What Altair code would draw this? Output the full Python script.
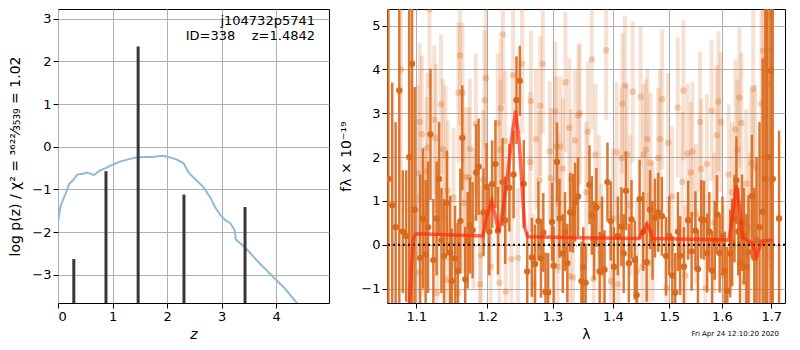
import altair as alt
import pandas as pd

FONT = "DejaVu Sans"

# ---------------- left panel: log p(z) ----------------
pz_z = [0.00, 0.05, 0.14, 0.20, 0.29, 0.35, 0.45, 0.54, 0.66, 0.75, 0.87, 1.00, 1.15,
        1.27, 1.42, 1.60, 1.73, 1.91, 2.03, 2.18, 2.30, 2.40, 2.52, 2.67, 2.79, 2.88,
        2.98, 3.07, 3.16, 3.24, 3.26, 3.37, 3.49, 3.65, 3.80, 3.98, 4.16, 4.38, 4.45]
pz_logp = [-1.76, -1.37, -1.10, -0.88, -0.76, -0.65, -0.63, -0.60, -0.66, -0.57, -0.50,
           -0.42, -0.34, -0.30, -0.25, -0.24, -0.24, -0.21, -0.24, -0.30, -0.38, -0.61,
           -0.76, -0.95, -1.18, -1.41, -1.60, -1.72, -1.79, -1.95, -2.17, -2.29, -2.44,
           -2.67, -2.86, -3.09, -3.32, -3.66, -3.75]
spike_z = [0.29, 0.88, 1.47, 2.31, 3.43]
spike_logp = [-2.63, -0.57, 2.35, -1.12, -1.41]
id_line1 = "j104732p5741"
id_line2 = "ID=338\u00a0\u00a0\u00a0\u00a0z=1.4842"

# ---------------- right panel: spectrum ----------------
dark_wave = [1.0630, 1.0680, 1.0725, 1.0773, 1.0820, 1.0865, 1.0905, 1.0943, 1.0978, 1.1053,
             1.1090, 1.1127, 1.1160, 1.1193, 1.1233, 1.1278, 1.1312, 1.1345, 1.1380, 1.1421,
             1.1466, 1.1488, 1.1535, 1.1573, 1.1611, 1.1638, 1.1680, 1.1715, 1.1749, 1.1786,
             1.1838, 1.1874, 1.1945, 1.1990, 1.2030, 1.2072, 1.2121, 1.2159, 1.2228, 1.2267,
             1.2330, 1.2394, 1.2438, 1.2489, 1.2549, 1.2603, 1.2675, 1.2725, 1.2777, 1.2817,
             1.2854, 1.2889, 1.2931, 1.2993, 1.3018, 1.3071, 1.3112, 1.3165, 1.3200, 1.3238,
             1.3285, 1.3328, 1.3365, 1.3413, 1.3469, 1.3500, 1.3538, 1.3603, 1.3641, 1.3680,
             1.3718, 1.3773, 1.3815, 1.3856, 1.3906, 1.3962, 1.4017, 1.4084, 1.4146, 1.4185,
             1.4224, 1.4275, 1.4322, 1.4379, 1.4413, 1.4465, 1.4529, 1.4590, 1.4652, 1.4696,
             1.4740, 1.4799, 1.4865, 1.4941, 1.4999, 1.5057, 1.5111, 1.5161, 1.5202, 1.5271,
             1.5353, 1.5418, 1.5489, 1.5538, 1.5601, 1.5651, 1.5714, 1.5756, 1.5810, 1.5861,
             1.5905, 1.5957, 1.6011, 1.6059, 1.6107, 1.6165, 1.6204, 1.6250, 1.6288, 1.6325,
             1.6360, 1.6400, 1.6438, 1.6490, 1.6531, 1.6601, 1.6650, 1.6696, 1.6756, 1.6822,
             1.6877, 1.6917, 1.6985, 1.7030, 1.7163]
dark_flux = [1.50, 0.90, 0.40, 3.52, 0.30, 0.20, 2.00, 4.13, 0.80, -0.30,
             0.60, -0.22, 0.40, 2.52, -0.35, 0.60, 1.50, 0.10, -0.26, 0.95,
             -0.18, -0.83, -0.31, -0.60, 0.54, 2.44, -0.79, 0.10, 0.44, 0.33,
             1.65, 1.78, 0.74, 1.32, 0.30, 1.38, 1.84, 0.32, 1.43, 0.56,
             1.30, 1.60, 3.30, 3.74, 1.39, -0.61, -0.29, -0.44, 0.54, -0.31,
             0.28, -1.08, -1.09, 0.52, -0.48, 1.89, 0.60, -0.20, 0.30, -0.42,
             0.74, 0.72, 0.97, 1.10, -0.83, -0.50, -0.87, 1.37, 0.67, 0.10,
             0.85, -0.61, 0.20, -0.57, 1.43, 0.54, -0.50, 0.20, 0.41, -0.20,
             1.23, -0.42, 0.58, -0.35, -1.15, 1.04, 0.30, -0.40, 0.80, 0.10,
             0.61, 0.74, 0.65, -0.26, 0.20, -0.70, -1.09, 0.30, -0.25, -0.50,
             0.56, -0.15, 0.32, -0.56, 0.58, 0.56, -0.19, 0.30, -0.59, 0.10,
             0.69, -0.19, 0.20, -0.60, -1.05, -0.20, 0.05, 0.60, 1.47, 0.30,
             -0.42, 0.50, 0.20, -0.50, -0.17, 1.11, -0.30, 0.10, 0.40, 0.75,
             1.50, 2.00, 3.97, 1.50, 0.60]
dark_err = [5.0, 2.8, 2.4, 5.0, 1.4, 1.5, 4.0, 5.5, 2.8, 1.9,
            1.6, 1.7, 1.5, 1.5, 1.4, 1.3, 1.3, 1.2, 1.3, 1.2,
            1.3, 1.2, 1.2, 1.1, 1.2, 1.2, 1.2, 1.1, 1.1, 1.1,
            1.1, 1.1, 1.0, 1.0, 1.0, 1.0, 1.0, 1.0, 1.0, 1.0,
            1.0, 1.0, 1.0, 0.8, 1.0, 0.9, 0.9, 0.9, 0.9, 0.9,
            0.9, 0.9, 0.9, 0.9, 0.9, 0.9, 0.9, 0.9, 0.9, 0.9,
            0.9, 0.9, 0.9, 0.9, 0.9, 0.9, 0.9, 0.9, 0.9, 0.9,
            0.9, 0.9, 0.9, 0.9, 0.9, 0.9, 0.9, 0.9, 0.9, 0.9,
            0.9, 0.9, 0.9, 0.9, 0.9, 0.9, 0.9, 0.9, 0.9, 0.9,
            0.9, 0.9, 0.9, 0.9, 0.9, 0.9, 0.9, 0.9, 0.9, 0.9,
            0.9, 0.9, 0.9, 0.9, 0.9, 0.9, 0.9, 0.9, 0.9, 0.9,
            0.9, 0.9, 0.9, 0.9, 1.0, 1.0, 1.0, 1.0, 1.0, 1.0,
            1.0, 1.1, 1.1, 1.2, 1.3, 1.4, 1.6, 1.9, 2.4, 3.5,
            4.5, 5.0, 6.0, 5.0, 2.0]

light_wave = [1.0794, 1.0921, 1.1021, 1.1034, 1.1047, 1.1075, 1.1110, 1.1140, 1.1153, 1.1180,
              1.1246, 1.1268, 1.1285, 1.1338, 1.1365, 1.1401, 1.1420, 1.1432, 1.1513, 1.1575,
              1.1584, 1.1606, 1.1642, 1.1660, 1.1679, 1.1734, 1.1747, 1.1800, 1.1833, 1.1893,
              1.1907, 1.1938, 1.1962, 1.1980, 1.2050, 1.2155, 1.2180, 1.2194, 1.2203, 1.2232,
              1.2267, 1.2276, 1.2360, 1.2385, 1.2460, 1.2524, 1.2649, 1.2660, 1.2700, 1.2740,
              1.2797, 1.2807, 1.2847, 1.2956, 1.2975, 1.3045, 1.3058, 1.3080, 1.3096, 1.3123,
              1.3165, 1.3207, 1.3270, 1.3281, 1.3297, 1.3330, 1.3366, 1.3420, 1.3441, 1.3550,
              1.3575, 1.3641, 1.3674, 1.3702, 1.3760, 1.3800, 1.3884, 1.3962, 1.4000, 1.4062,
              1.4090, 1.4146, 1.4163, 1.4207, 1.4241, 1.4300, 1.4344, 1.4420, 1.4482, 1.4517,
              1.4535, 1.4576, 1.4604, 1.4625, 1.4657, 1.4700, 1.4799, 1.4829, 1.4870, 1.4950,
              1.4978, 1.5050, 1.5158, 1.5243, 1.5262, 1.5300, 1.5341, 1.5403, 1.5433, 1.5500,
              1.5575, 1.5600, 1.5680, 1.5707, 1.5801, 1.5850, 1.5903, 1.5930, 1.5979, 1.6030,
              1.6134, 1.6200, 1.6270, 1.6309, 1.6348, 1.6387, 1.6450, 1.6487, 1.6550, 1.6587,
              1.6627, 1.6668, 1.6797, 1.6830, 1.6885, 1.6919, 1.6950, 1.6987]
light_flux = [4.00, 0.80, 1.63, -0.63, 2.80, 2.52, 0.52, 1.67, 2.22, 5.37,
              2.85, 2.43, -1.10, 3.20, 2.18, 2.04, -0.80, 1.23, 1.07, -1.11,
              3.47, 4.32, 3.47, 0.95, 1.54, 1.54, 2.19, 0.60, 2.76, -0.90,
              -0.24, 1.47, 3.30, 3.80, -0.50, 2.78, -0.87, 2.17, 3.11, 4.80,
              2.37, -1.07, -0.33, 3.87, -0.30, 4.13, 1.89, 3.28, -0.90, 2.41,
              1.47, 3.17, 4.13, 2.13, 1.52, 3.04, 2.24, -0.50, 0.95, 2.24,
              1.74, 3.71, 2.67, -0.72, 1.50, -0.75, 2.38, 2.95, 3.00, 1.20,
              2.58, 4.23, -0.78, 2.06, 0.90, -0.20, 4.44, -0.83, 0.60, 2.11,
              -0.90, 1.98, 3.22, 3.63, 2.06, 0.90, 3.49, -0.60, 3.38, -0.50,
              2.06, 2.17, 2.41, -0.42, 1.87, 0.30, 1.98, 2.41, 3.32, -1.00,
              2.32, 1.10, 3.13, 1.43, 3.52, -0.70, 2.08, 1.65, 2.12, 0.70,
              2.80, 1.73, -1.00, 1.84, 3.06, 0.50, 2.50, 3.27, 2.80, -0.70,
              1.60, 1.20, 2.63, 2.17, 3.36, 2.78, -0.85, 1.39, 0.40, 1.86,
              3.56, 1.75, 3.22, 4.43, 4.24, 3.67, 5.24, 4.43]
light_err = [3.0, 3.0, 2.0, 1.8, 1.8, 1.8, 1.7, 1.7, 1.7, 1.8,
             1.7, 1.7, 1.6, 1.6, 1.6, 1.6, 1.6, 1.6, 1.6, 1.6,
             1.6, 1.6, 1.6, 1.6, 1.6, 1.6, 1.6, 1.6, 1.6, 1.6,
             1.6, 1.6, 1.6, 1.6, 1.6, 1.6, 1.6, 1.6, 1.6, 1.6,
             1.6, 1.6, 1.6, 1.6, 1.6, 1.6, 1.6, 1.6, 1.6, 1.6,
             1.6, 1.6, 1.6, 1.6, 1.6, 1.6, 1.6, 1.6, 1.6, 1.6,
             1.6, 1.6, 1.6, 1.6, 1.6, 1.6, 1.6, 1.6, 1.6, 1.6,
             1.6, 1.6, 1.6, 1.6, 1.6, 1.6, 1.6, 1.6, 1.6, 1.6,
             1.6, 1.6, 1.6, 1.6, 1.6, 1.6, 1.6, 1.6, 1.6, 1.6,
             1.6, 1.6, 1.6, 1.6, 1.6, 1.6, 1.6, 1.6, 1.6, 1.6,
             1.6, 1.6, 1.6, 1.6, 1.6, 1.6, 1.6, 1.6, 1.6, 1.6,
             1.6, 1.6, 1.6, 1.6, 1.6, 1.6, 1.6, 1.6, 1.6, 1.6,
             1.6, 1.6, 1.6, 1.6, 1.6, 1.6, 1.6, 1.7, 1.7, 1.7,
             1.8, 1.9, 2.5, 3.0, 3.5, 4.0, 4.0, 5.0]

model_wave = [1.0860, 1.0912, 1.0955, 1.0987, 1.1017, 1.1938, 1.1985, 1.2067, 1.2114, 1.2165,
              1.2217, 1.2301, 1.2375, 1.2424, 1.2474, 1.2524, 1.2565, 1.2610, 1.3458, 1.4460,
              1.4535, 1.4594, 1.4652, 1.4705, 1.6141, 1.6213, 1.6288, 1.6354, 1.6413, 1.6497,
              1.6597, 1.6696, 1.6797, 1.6966, 1.7021]
model_flux = [-2.00, -1.24, 0.10, 0.24, 0.25, 0.20, 0.61, 1.00, 0.69, 0.30,
              0.61, 1.58, 2.54, 3.06, 2.47, 1.28, 0.39, 0.18, 0.16, 0.14,
              0.32, 0.48, 0.32, 0.14, 0.11, 0.69, 1.36, 0.84, 0.16, 0.11,
              0.04, -0.26, 0.08, 0.10, 0.10]
footer = "Fri Apr 24 12:10:20 2020"

# ---------------- build ----------------
H = 294
WL = 271
WR = 398
ORANGE = "#d9691c"

df_pz = pd.DataFrame({"z": pz_z, "logp": pz_logp})
df_sp = pd.DataFrame({"z": spike_z, "logp": spike_logp})

zscale = alt.Scale(domain=[0, 4.97], nice=False, zero=False)
pscale = alt.Scale(domain=[-3.66, 3.23], nice=False, zero=False)

left_base = alt.Chart(df_pz).mark_line(color="#8dbbdc", strokeWidth=2, clip=True).encode(
    x=alt.X("z:Q", scale=zscale,
            axis=alt.Axis(values=[0, 1, 2, 3, 4], title="z", titleFontStyle="italic",
                          titlePadding=4)),
    y=alt.Y("logp:Q", scale=pscale,
            axis=alt.Axis(values=[-3, -2, -1, 0, 1, 2, 3], format="d",
                          title="log p(z) / χ² = ³⁶²²⁄₃₅₃₉ = 1.02", titlePadding=9)),
)
spikes = alt.Chart(df_sp).mark_rule(color="#383838", strokeWidth=3).encode(
    x="z:Q", y="logp:Q", y2=alt.value(H)
)
txt1 = alt.Chart(pd.DataFrame({"t": [id_line1]})).mark_text(
    align="right", baseline="middle", fontSize=13, font=FONT, color="black"
).encode(x=alt.value(WL - 14), y=alt.value(12), text="t:N")
txt2 = alt.Chart(pd.DataFrame({"t": [id_line2]})).mark_text(
    align="right", baseline="middle", fontSize=13, font=FONT, color="black"
).encode(x=alt.value(WL - 14), y=alt.value(27), text="t:N")

left = alt.layer(left_base, spikes, txt1, txt2).properties(width=WL, height=H)

df_dark = pd.DataFrame({"w": dark_wave, "f": dark_flux, "e": dark_err})
df_dark["lo"] = df_dark["f"] - df_dark["e"]
df_dark["hi"] = df_dark["f"] + df_dark["e"]
df_light = pd.DataFrame({"w": light_wave, "f": light_flux, "e": light_err})
df_light["lo"] = df_light["f"] - df_light["e"]
df_light["hi"] = df_light["f"] + df_light["e"]
df_model = pd.DataFrame({"w": model_wave, "f": model_flux})

lscale = alt.Scale(type="log", domain=[1.0612, 1.7288], nice=False)
fscale = alt.Scale(domain=[-1.33, 5.38], nice=False, zero=False)
xax = alt.Axis(values=[1.1, 1.2, 1.3, 1.4, 1.5, 1.6, 1.7], format=".1f", title="λ",
               titlePadding=4)
yax = alt.Axis(values=[-1, 0, 1, 2, 3, 4, 5], format="d", title="fλ × 10⁻¹⁹",
               titlePadding=7)

light_bars = alt.Chart(df_light).mark_rule(color=ORANGE, opacity=0.2, strokeWidth=4, clip=True).encode(
    x=alt.X("w:Q", scale=lscale, axis=xax),
    y=alt.Y("lo:Q", scale=fscale, axis=yax),
    y2="hi:Q",
)
light_pts = alt.Chart(df_light).mark_circle(color=ORANGE, opacity=0.3, size=42, clip=True).encode(
    x="w:Q", y="f:Q"
)
dark_bars = alt.Chart(df_dark).mark_rule(color=ORANGE, opacity=0.9, strokeWidth=2.5, clip=True).encode(
    x="w:Q", y="lo:Q", y2="hi:Q"
)
dark_pts = alt.Chart(df_dark).mark_circle(color=ORANGE, opacity=1, size=40, clip=True).encode(
    x="w:Q", y="f:Q"
)
zero = alt.Chart(pd.DataFrame({"f": [0]})).mark_rule(
    color="black", strokeDash=[2, 3], strokeWidth=2
).encode(y="f:Q")
model = alt.Chart(df_model).mark_line(color="#ff2a10", opacity=0.7, strokeWidth=3.5, clip=True).encode(
    x="w:Q", y="f:Q"
)
foot = alt.Chart(pd.DataFrame({"t": [footer]})).mark_text(
    align="right", baseline="middle", fontSize=7, font=FONT, color="black"
).encode(x=alt.value(WR - 6), y=alt.value(H + 31), text="t:N")

right = alt.layer(light_bars, light_pts, dark_bars, dark_pts, zero, model, foot).properties(
    width=WR, height=H
)

chart = alt.hconcat(left, right, spacing=9).properties(
    padding={"left": 0, "top": 0, "right": 0, "bottom": 0}
).configure_axis(
    gridColor="#b0b0b0", gridWidth=1, domain=False, tickColor="black", tickSize=5,
    labelFontSize=13, titleFontSize=14, labelFont=FONT, titleFont=FONT,
    labelColor="black", titleColor="black", titleFontWeight="normal",
).configure_view(stroke="black", strokeWidth=1)

chart.save("out.html", embed_options={"renderer": "svg", "actions": False})
